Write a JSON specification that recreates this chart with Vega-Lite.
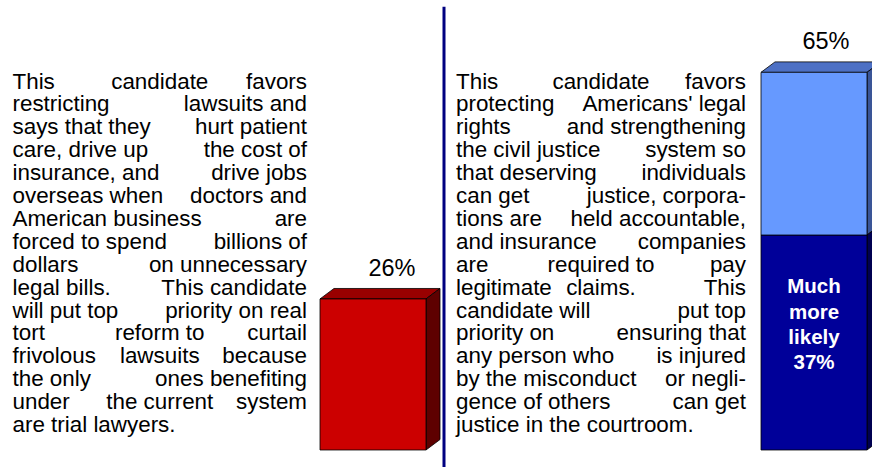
{
  "$schema": "https://vega.github.io/schema/vega-lite/v6.json",
  "width": 872,
  "height": 467,
  "autosize": {"type": "fit", "contains": "padding"},
  "padding": 0,
  "background": "white",
  "config": {"view": {"stroke": null}},
  "datasets": {
    "bars": [
      {"option": "Restricts lawsuits", "segment": "Total", "start": 0, "end": 26, "x0": 320, "x1": 426},
      {"option": "Protects legal rights", "segment": "Much more likely", "start": 0, "end": 37, "x0": 761, "x1": 867},
      {"option": "Protects legal rights", "segment": "Somewhat more likely", "start": 37, "end": 65, "x0": 761, "x1": 867}
    ],
    "faces": [
      {"face": "redTop", "x": 320, "lo": 26, "hi": 26},
      {"face": "redTop", "x": 334, "lo": 26, "hi": 27.8},
      {"face": "redTop", "x": 426, "lo": 26, "hi": 27.8},
      {"face": "redTop", "x": 440, "lo": 27.8, "hi": 27.8},
      {"face": "redSide", "x": 426, "lo": 0, "hi": 26},
      {"face": "redSide", "x": 440, "lo": 1.8, "hi": 27.8},
      {"face": "blueTop", "x": 761, "lo": 65, "hi": 65},
      {"face": "blueTop", "x": 775, "lo": 65, "hi": 66.8},
      {"face": "blueTop", "x": 867, "lo": 65, "hi": 66.8},
      {"face": "blueTop", "x": 881, "lo": 66.8, "hi": 66.8},
      {"face": "lightSide", "x": 867, "lo": 37, "hi": 65},
      {"face": "lightSide", "x": 881, "lo": 38.8, "hi": 66.8},
      {"face": "darkSide", "x": 867, "lo": 0, "hi": 37},
      {"face": "darkSide", "x": 881, "lo": 1.8, "hi": 38.8}
    ],
    "totals": [
      {"option": "Restricts lawsuits", "label": "26%", "value": 26, "lx": 392},
      {"option": "Protects legal rights", "label": "65%", "value": 65, "lx": 826}
    ],
    "inner": [
      {"segment": "Much more likely", "label": "Much\nmore\nlikely\n37%", "value": 37, "cx": 814}
    ],
    "divider": [
      {"x": 444, "top": 76.3, "bottom": -2.93}
    ],
    "paragraphs": [
      {"block": "left", "line": 1, "part": "first", "text": "This"},
      {"block": "left", "line": 1, "part": "mid", "text": "candidate"},
      {"block": "left", "line": 1, "part": "last", "text": "favors"},
      {"block": "left", "line": 2, "part": "first", "text": "restricting"},
      {"block": "left", "line": 2, "part": "last", "text": "lawsuits and"},
      {"block": "left", "line": 3, "part": "first", "text": "says that they"},
      {"block": "left", "line": 3, "part": "last", "text": "hurt patient"},
      {"block": "left", "line": 4, "part": "first", "text": "care, drive up"},
      {"block": "left", "line": 4, "part": "last", "text": "the cost of"},
      {"block": "left", "line": 5, "part": "first", "text": "insurance, and"},
      {"block": "left", "line": 5, "part": "last", "text": "drive jobs"},
      {"block": "left", "line": 6, "part": "first", "text": "overseas when"},
      {"block": "left", "line": 6, "part": "last", "text": "doctors and"},
      {"block": "left", "line": 7, "part": "first", "text": "American business"},
      {"block": "left", "line": 7, "part": "last", "text": "are"},
      {"block": "left", "line": 8, "part": "first", "text": "forced to spend"},
      {"block": "left", "line": 8, "part": "last", "text": "billions of"},
      {"block": "left", "line": 9, "part": "first", "text": "dollars"},
      {"block": "left", "line": 9, "part": "last", "text": "on unnecessary"},
      {"block": "left", "line": 10, "part": "first", "text": "legal bills."},
      {"block": "left", "line": 10, "part": "last", "text": "This candidate"},
      {"block": "left", "line": 11, "part": "first", "text": "will put top"},
      {"block": "left", "line": 11, "part": "last", "text": "priority on real"},
      {"block": "left", "line": 12, "part": "first", "text": "tort"},
      {"block": "left", "line": 12, "part": "mid", "text": "reform to"},
      {"block": "left", "line": 12, "part": "last", "text": "curtail"},
      {"block": "left", "line": 13, "part": "first", "text": "frivolous"},
      {"block": "left", "line": 13, "part": "mid", "text": "lawsuits"},
      {"block": "left", "line": 13, "part": "last", "text": "because"},
      {"block": "left", "line": 14, "part": "first", "text": "the only"},
      {"block": "left", "line": 14, "part": "last", "text": "ones benefiting"},
      {"block": "left", "line": 15, "part": "first", "text": "under"},
      {"block": "left", "line": 15, "part": "mid", "text": "the current"},
      {"block": "left", "line": 15, "part": "last", "text": "system"},
      {"block": "left", "line": 16, "part": "first", "text": "are trial lawyers."},
      {"block": "right", "line": 1, "part": "first", "text": "This"},
      {"block": "right", "line": 1, "part": "mid", "text": "candidate"},
      {"block": "right", "line": 1, "part": "last", "text": "favors"},
      {"block": "right", "line": 2, "part": "first", "text": "protecting"},
      {"block": "right", "line": 2, "part": "last", "text": "Americans' legal"},
      {"block": "right", "line": 3, "part": "first", "text": "rights"},
      {"block": "right", "line": 3, "part": "last", "text": "and strengthening"},
      {"block": "right", "line": 4, "part": "first", "text": "the civil justice"},
      {"block": "right", "line": 4, "part": "last", "text": "system so"},
      {"block": "right", "line": 5, "part": "first", "text": "that deserving"},
      {"block": "right", "line": 5, "part": "last", "text": "individuals"},
      {"block": "right", "line": 6, "part": "first", "text": "can get"},
      {"block": "right", "line": 6, "part": "last", "text": "justice, corpora-"},
      {"block": "right", "line": 7, "part": "first", "text": "tions are"},
      {"block": "right", "line": 7, "part": "last", "text": "held accountable,"},
      {"block": "right", "line": 8, "part": "first", "text": "and insurance"},
      {"block": "right", "line": 8, "part": "last", "text": "companies"},
      {"block": "right", "line": 9, "part": "first", "text": "are"},
      {"block": "right", "line": 9, "part": "mid", "text": "required to"},
      {"block": "right", "line": 9, "part": "last", "text": "pay"},
      {"block": "right", "line": 10, "part": "first", "text": "legitimate"},
      {"block": "right", "line": 10, "part": "mid", "text": "claims."},
      {"block": "right", "line": 10, "part": "last", "text": "This"},
      {"block": "right", "line": 11, "part": "first", "text": "candidate will"},
      {"block": "right", "line": 11, "part": "last", "text": "put top"},
      {"block": "right", "line": 12, "part": "first", "text": "priority on"},
      {"block": "right", "line": 12, "part": "last", "text": "ensuring that"},
      {"block": "right", "line": 13, "part": "first", "text": "any person who"},
      {"block": "right", "line": 13, "part": "last", "text": "is injured"},
      {"block": "right", "line": 14, "part": "first", "text": "by the misconduct"},
      {"block": "right", "line": 14, "part": "last", "text": "or negli-"},
      {"block": "right", "line": 15, "part": "first", "text": "gence of others"},
      {"block": "right", "line": 15, "part": "last", "text": "can get"},
      {"block": "right", "line": 16, "part": "first", "text": "justice in the courtroom."}
    ]
  },
  "layer": [
    {
      "layer": [
        {
          "data": {"name": "divider"},
          "mark": {"type": "rule", "color": "#000080", "strokeWidth": 3, "clip": true},
          "encoding": {
            "x": {"field": "x", "type": "quantitative", "axis": null, "scale": {"domain": [0, 872], "nice": false, "zero": false}},
            "y": {"field": "top", "type": "quantitative", "axis": null, "scale": {"domain": [-2.926, 77.45], "nice": false, "zero": false}},
            "y2": {"field": "bottom"}
          }
        },
        {
          "data": {"name": "faces"},
          "mark": {"type": "area", "stroke": "#000000", "strokeWidth": 0.8, "clip": true, "opacity": 1},
          "encoding": {
            "x": {"field": "x", "type": "quantitative", "axis": null},
            "y": {"field": "hi", "type": "quantitative", "axis": null},
            "y2": {"field": "lo"},
            "color": {"field": "face", "type": "nominal", "legend": null,
              "scale": {"domain": ["redTop", "redSide", "blueTop", "lightSide", "darkSide"],
                        "range": ["#990000", "#5e0000", "#4d70c4", "#3a5597", "#000050"]}}
          }
        },
        {
          "data": {"name": "bars"},
          "mark": {"type": "rect", "stroke": "#000000", "strokeWidth": 0.8},
          "encoding": {
            "x": {"field": "x0", "type": "quantitative", "axis": null},
            "x2": {"field": "x1"},
            "y": {"field": "end", "type": "quantitative", "axis": null},
            "y2": {"field": "start"},
            "fill": {"field": "segment", "type": "nominal", "legend": null,
              "scale": {"domain": ["Total", "Much more likely", "Somewhat more likely"],
                        "range": ["#cc0000", "#000099", "#6699ff"]}}
          }
        },
        {
          "data": {"name": "totals"},
          "mark": {"type": "text", "font": "Liberation Sans", "fontSize": 23.5, "color": "#000000", "align": "center", "baseline": "alphabetic", "dy": -23},
          "encoding": {
            "x": {"field": "lx", "type": "quantitative", "axis": null},
            "y": {"field": "value", "type": "quantitative", "axis": null},
            "text": {"field": "label", "type": "nominal"}
          }
        },
        {
          "data": {"name": "inner"},
          "mark": {"type": "text", "font": "Liberation Sans", "fontSize": 20.5, "fontWeight": "bold", "color": "#ffffff", "align": "center", "baseline": "alphabetic", "lineBreak": "\n", "lineHeight": 25.3, "dy": 58.3},
          "encoding": {
            "x": {"field": "cx", "type": "quantitative", "axis": null},
            "y": {"field": "value", "type": "quantitative", "axis": null},
            "text": {"field": "label", "type": "nominal"}
          }
        }
      ],
      "resolve": {"scale": {"color": "independent", "fill": "independent"}}
    },
    {
      "data": {"name": "paragraphs"},
      "layer": [
        {
          "transform": [{"filter": "datum.part === 'first'"}],
          "mark": {"type": "text", "font": "Liberation Sans", "fontSize": 22.4, "color": "#000000", "align": "left", "baseline": "alphabetic"},
          "encoding": {
            "x": {"field": "block", "type": "nominal", "axis": null, "scale": {"type": "point", "domain": ["left", "right"], "range": [12.5, 456], "padding": 0}},
            "y": {"field": "line", "type": "quantitative", "axis": null, "scale": {"domain": [-2.865, 17.528], "reverse": true, "nice": false, "zero": false}},
            "text": {"field": "text", "type": "nominal"}
          }
        },
        {
          "transform": [{"filter": "datum.part === 'mid'"}],
          "mark": {"type": "text", "font": "Liberation Sans", "fontSize": 22.4, "color": "#000000", "align": "center", "baseline": "alphabetic"},
          "encoding": {
            "x": {"field": "block", "type": "nominal", "axis": null, "scale": {"type": "point", "domain": ["left", "right"], "range": [159.75, 601], "padding": 0}},
            "y": {"field": "line", "type": "quantitative", "axis": null},
            "text": {"field": "text", "type": "nominal"}
          }
        },
        {
          "transform": [{"filter": "datum.part === 'last'"}],
          "mark": {"type": "text", "font": "Liberation Sans", "fontSize": 22.4, "color": "#000000", "align": "right", "baseline": "alphabetic"},
          "encoding": {
            "x": {"field": "block", "type": "nominal", "axis": null, "scale": {"type": "point", "domain": ["left", "right"], "range": [307, 746], "padding": 0}},
            "y": {"field": "line", "type": "quantitative", "axis": null},
            "text": {"field": "text", "type": "nominal"}
          }
        }
      ],
      "resolve": {"scale": {"x": "independent"}}
    }
  ],
  "resolve": {"scale": {"x": "independent", "y": "independent"}}
}
